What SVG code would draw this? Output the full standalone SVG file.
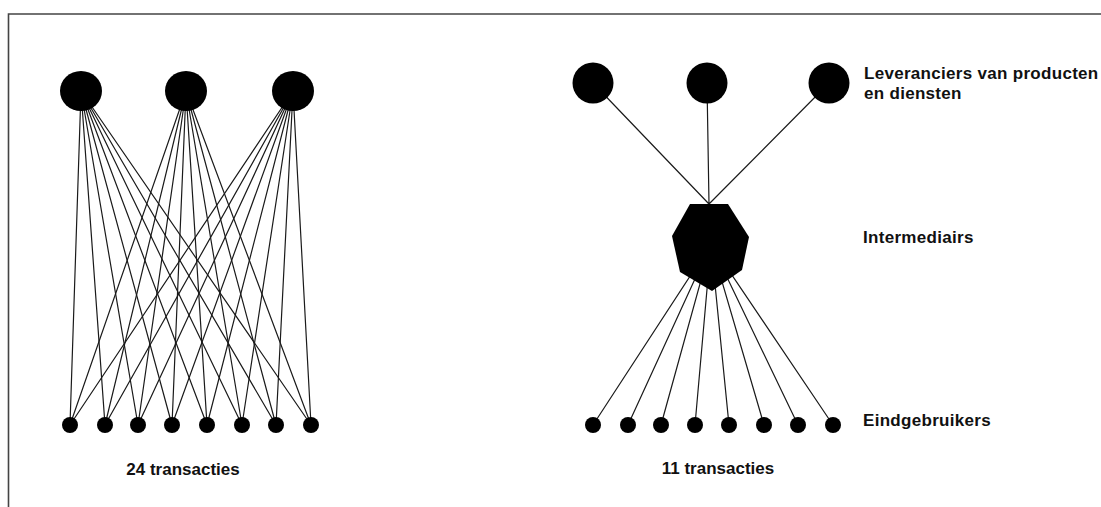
<svg xmlns="http://www.w3.org/2000/svg" width="1101" height="507" viewBox="0 0 1101 507">
  <style>
    .edge { stroke: #1a1a1a; stroke-width: 1.2; fill: none; }
    .node { fill: #000; }
    .label { font-family: "Liberation Sans", Arial, sans-serif; font-weight: bold; font-size: 17px; fill: #111; }
    .legend { letter-spacing: 0.3px; }
  </style>
  <rect width="1101" height="507" fill="#fff"/>
  <!-- frame -->
  <path d="M8.5 507 V14 H1101" fill="none" stroke="#444" stroke-width="1.6"/>

  <!-- connectors -->
  <g id="connectors" class="edge">
    <!-- direct network: every supplier to every end user -->
    <g id="direct-links">
      <path d="M81 91 L70 425 M81 91 L105 425 M81 91 L138 425 M81 91 L172 425 M81 91 L207 425 M81 91 L242 425 M81 91 L276 425 M81 91 L311 425"/>
      <path d="M186 91 L70 425 M186 91 L105 425 M186 91 L138 425 M186 91 L172 425 M186 91 L207 425 M186 91 L242 425 M186 91 L276 425 M186 91 L311 425"/>
      <path d="M293 91 L70 425 M293 91 L105 425 M293 91 L138 425 M293 91 L172 425 M293 91 L207 425 M293 91 L242 425 M293 91 L276 425 M293 91 L311 425"/>
    </g>
    <!-- mediated network: suppliers to intermediary, intermediary to end users -->
    <g id="mediated-links">
      <path d="M593 83 L709 204 M707 83 L709 204 M829 83 L709 204"/>
      <path d="M711 244 L593 425 M711 244 L628 425 M711 244 L661 425 M711 244 L695 425 M711 244 L729 425 M711 244 L764 425 M711 244 L798 425 M711 244 L833 425"/>
    </g>
  </g>

  <!-- left: suppliers -->
  <g id="left-suppliers" class="node">
    <ellipse id="ls1" cx="81" cy="91" rx="21" ry="20"/>
    <ellipse id="ls2" cx="186" cy="91" rx="21" ry="20"/>
    <ellipse id="ls3" cx="293" cy="91" rx="21" ry="20"/>
  </g>
  <!-- left: end users -->
  <g id="left-users" class="node">
    <circle id="lu1" cx="70" cy="425" r="8"/>
    <circle id="lu2" cx="105" cy="425" r="8"/>
    <circle id="lu3" cx="138" cy="425" r="8"/>
    <circle id="lu4" cx="172" cy="425" r="8"/>
    <circle id="lu5" cx="207" cy="425" r="8"/>
    <circle id="lu6" cx="242" cy="425" r="8"/>
    <circle id="lu7" cx="276" cy="425" r="8"/>
    <circle id="lu8" cx="311" cy="425" r="8"/>
  </g>
  <g id="left-caption">
    <text class="label" x="183" y="475" text-anchor="middle">24 transacties</text>
  </g>

  <!-- right: suppliers -->
  <g id="right-suppliers" class="node">
    <circle id="rs1" cx="593" cy="83" r="20.5"/>
    <circle id="rs2" cx="707" cy="83" r="20.5"/>
    <circle id="rs3" cx="829" cy="83" r="20.5"/>
  </g>
  <!-- right: intermediary -->
  <g id="intermediary" class="node">
    <polygon points="690,204 728,204 749,237 742,270 712,291 680,272 672,236"/>
  </g>
  <!-- right: end users -->
  <g id="right-users" class="node">
    <circle id="ru1" cx="593" cy="425" r="8"/>
    <circle id="ru2" cx="628" cy="425" r="8"/>
    <circle id="ru3" cx="661" cy="425" r="8"/>
    <circle id="ru4" cx="695" cy="425" r="8"/>
    <circle id="ru5" cx="729" cy="425" r="8"/>
    <circle id="ru6" cx="764" cy="425" r="8"/>
    <circle id="ru7" cx="798" cy="425" r="8"/>
    <circle id="ru8" cx="833" cy="425" r="8"/>
  </g>
  <g id="right-caption">
    <text class="label" x="718" y="474" text-anchor="middle">11 transacties</text>
  </g>

  <!-- legend labels -->
  <g id="legend">
    <text class="label legend" x="864" y="78.5">Leveranciers van producten</text>
    <text class="label legend" x="864" y="98.5">en diensten</text>
    <text class="label legend" x="863" y="243">Intermediairs</text>
    <text class="label legend" x="863" y="426">Eindgebruikers</text>
  </g>
</svg>
